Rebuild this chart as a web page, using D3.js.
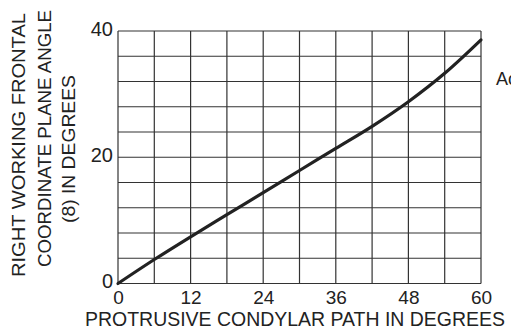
<!DOCTYPE html>
<html>
<head>
<meta charset="utf-8">
<script src="https://cdn.jsdelivr.net/npm/d3@7/dist/d3.min.js"></script>
<style>
  html, body { margin: 0; padding: 0; background: #fff; overflow: hidden; }
  svg { display: block; }
  text { font-family: "Liberation Sans", Arial, sans-serif; fill: #222; }
</style>
</head>
<body>
<svg id="chart" width="511" height="329"></svg>
<script>
// Protrusive condylar path (degrees) vs. right working frontal plane angle (degrees)
const pathDegrees = [0, 6, 12, 18, 24, 30, 36, 42, 48, 54, 60];
const planeAngle  = [0, 3.8, 7.4, 10.9, 14.4, 17.9, 21.4, 24.9, 28.8, 33.3, 38.6];
const xTickLabels = [0, 12, 24, 36, 48, 60];
const yTickLabels = [0, 20, 40];
const yLabelLines = ["RIGHT WORKING FRONTAL", "COORDINATE PLANE ANGLE", "(8) IN DEGREES"];
const xLabel = "PROTRUSIVE CONDYLAR PATH IN DEGREES";

const svg = d3.select("#chart");
const plotLeft = 118, plotRight = 481, plotTop = 31, plotBottom = 283.5;

const x = d3.scaleLinear().domain([0, 60]).range([plotLeft, plotRight]);
const y = d3.scaleLinear().domain([0, 40]).range([plotBottom, plotTop]);

// grid: every 6 degrees across, every 4 degrees up
const grid = svg.append("g").attr("stroke", "#333").attr("stroke-width", 1.2);
grid.selectAll("line.v").data(d3.range(0, 61, 6)).join("line")
  .attr("class", "v")
  .attr("x1", d => x(d)).attr("x2", d => x(d))
  .attr("y1", y(0)).attr("y2", y(40));
grid.selectAll("line.h").data(d3.range(0, 41, 4)).join("line")
  .attr("class", "h")
  .attr("x1", x(0)).attr("x2", x(60))
  .attr("y1", d => y(d)).attr("y2", d => y(d));

// axes (labels only, the grid forms the frame)
const xAxis = svg.append("g").attr("transform", `translate(0,${plotBottom})`)
  .call(d3.axisBottom(x).tickValues(xTickLabels).tickSize(0).tickPadding(7));
xAxis.select(".domain").remove();
xAxis.selectAll("text").attr("font-size", 19).attr("fill", "#222")
  .attr("font-family", "Liberation Sans, Arial, sans-serif");

const yAxis = svg.append("g").attr("transform", `translate(${plotLeft},0)`)
  .call(d3.axisLeft(y).tickValues(yTickLabels).tickSize(0).tickPadding(5));
yAxis.select(".domain").remove();
yAxis.selectAll("text").attr("font-size", 20).attr("fill", "#222")
  .attr("font-family", "Liberation Sans, Arial, sans-serif")
  .attr("dy", "0.2em");

// the curve
const line = d3.line()
  .x((d, i) => x(pathDegrees[i]))
  .y(d => y(d))
  .curve(d3.curveCatmullRom.alpha(0.5));
svg.append("path").datum(planeAngle)
  .attr("d", line)
  .attr("fill", "none")
  .attr("stroke", "#222")
  .attr("stroke-width", 3.2)
  .attr("stroke-linecap", "round");

// axis titles
svg.append("text")
  .attr("x", 295).attr("y", 326)
  .attr("text-anchor", "middle")
  .attr("font-size", 20.5)
  .attr("textLength", 420).attr("lengthAdjust", "spacingAndGlyphs")
  .text(xLabel);

const yLabelPos = [{cx: 25, cy: 145, len: 264}, {cx: 51, cy: 138.5, len: 257}, {cx: 75, cy: 149, len: 148}];
yLabelLines.forEach((t, i) => {
  const p = yLabelPos[i];
  svg.append("text")
    .attr("transform", `translate(${p.cx},${p.cy}) rotate(-90)`)
    .attr("text-anchor", "middle")
    .attr("font-size", 18)
    .attr("textLength", p.len).attr("lengthAdjust", "spacingAndGlyphs")
    .text(t);
});

// marginal note running off the right edge
svg.append("text")
  .attr("x", 496).attr("y", 85)
  .attr("font-size", 18)
  .text("Ac");
</script>
</body>
</html>
